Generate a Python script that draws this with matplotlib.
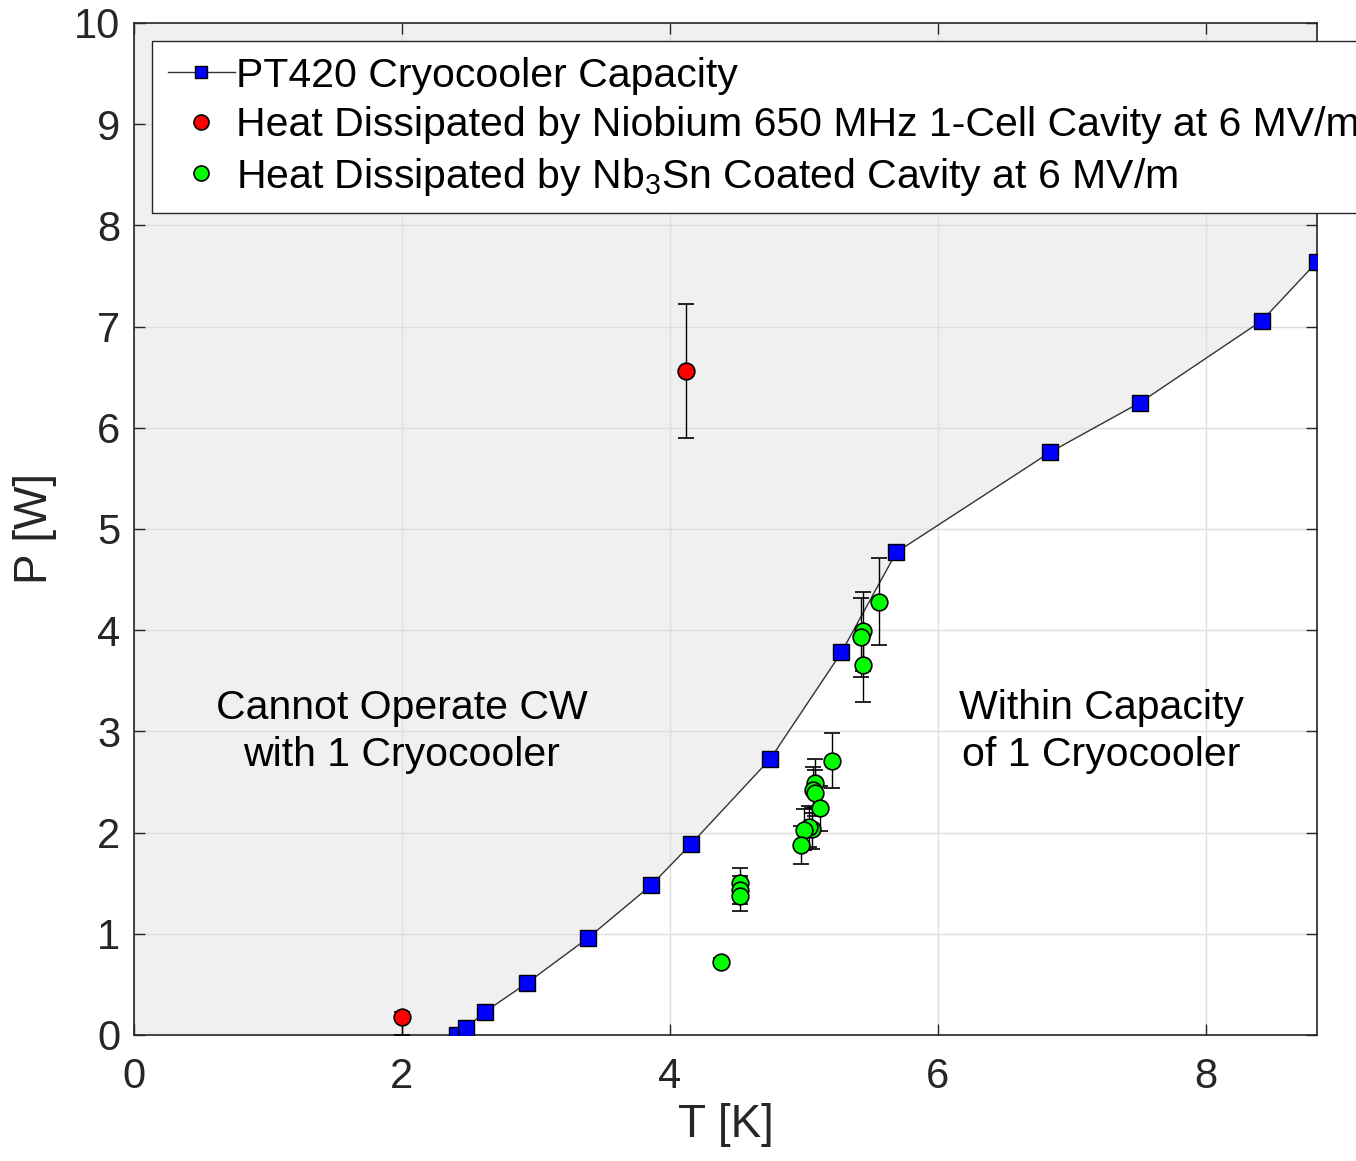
import matplotlib
matplotlib.use("Agg")
import matplotlib.pyplot as plt

plt.rcParams['font.family'] = ['Liberation Sans', 'DejaVu Sans']
plt.rcParams['mathtext.default'] = 'regular'

# PT420 cryocooler capacity curve
cap_T = [2.41, 2.48, 2.62, 2.93, 3.39, 3.86, 4.16, 4.75, 5.28, 5.69, 6.84, 7.51, 8.42, 8.83]
cap_P = [0.00, 0.07, 0.23, 0.51, 0.96, 1.48, 1.89, 2.73, 3.78, 4.77, 5.76, 6.25, 7.06, 7.64]

# niobium 1-cell cavity (lower / upper error)
nb_T = [2.00, 4.12]
nb_P = [0.18, 6.56]
nb_err_lo = [0.18, 0.66]
nb_err_hi = [0.05, 0.66]

# Nb3Sn coated cavity
sn_T = [5.56, 5.44, 5.43, 5.44, 5.21, 5.08, 5.07, 5.08, 5.12, 5.06, 5.04, 5.00, 4.98, 4.52, 4.52, 4.52, 4.38]
sn_P = [4.28, 3.99, 3.93, 3.66, 2.71, 2.49, 2.42, 2.39, 2.24, 2.04, 2.06, 2.03, 1.88, 1.50, 1.43, 1.37, 0.72]
sn_err = [0.43, 0.39, 0.39, 0.37, 0.27, 0.24, 0.23, 0.23, 0.22, 0.20, 0.20, 0.20, 0.19, 0.15, 0.14, 0.14, 0.04]

W, H = 1356, 1161
fig = plt.figure(figsize=(W / 100, H / 100), dpi=100)
ax = fig.add_axes([134 / W, 1 - 1035 / H, (1317 - 134) / W, (1035 - 23) / H])

xmax, ymax = 8.83, 10

# grey region above capacity curve
ax.fill_between([0] + cap_T, [0] + cap_P, ymax, color='#f0f0f0', lw=0, zorder=0.1)
ax.set_axisbelow(True)
ax.grid(True, color='#dedede', lw=1.0)

cap_line, = ax.plot(cap_T, cap_P, '-s', color='#333333', lw=1.0, mfc='#0000ff', mec='black',
                    mew=1.0, ms=11, zorder=3)

nb = ax.errorbar(nb_T, nb_P, yerr=[nb_err_lo, nb_err_hi], fmt='o', ms=12, mfc='#ff0000',
                 mec='black', mew=1.2, ecolor='black', elinewidth=1.0, capsize=5.5,
                 capthick=1.0, zorder=4)
sn = ax.errorbar(sn_T, sn_P, yerr=sn_err, fmt='o', ms=12, mfc='#00ff00', mec='black', mew=1.2,
                 ecolor='black', elinewidth=1.0, capsize=5.5, capthick=1.0, zorder=4)

ax.text(2.0, 3.0, 'Cannot Operate CW\nwith 1 Cryocooler', ha='center', va='center',
        fontsize=29.5, color='black', linespacing=1.3)
ax.text(7.22, 3.0, 'Within Capacity\nof 1 Cryocooler', ha='center', va='center',
        fontsize=29.5, color='black', linespacing=1.3)

ax.set_xlim(0, xmax)
ax.set_ylim(0, ymax)
ax.set_xticks([0, 2, 4, 6, 8])
ax.set_yticks(range(0, 11))
ax.tick_params(direction='in', top=True, right=True, length=8, width=1.0,
               colors='#262626', labelsize=30)
ax.tick_params(axis='x', pad=16)
ax.tick_params(axis='y', pad=10)
for s in ax.spines.values():
    s.set_color('#262626')
    s.set_linewidth(1.2)

ax.set_xlabel('T [K]', fontsize=33, color='#262626', labelpad=4)
ax.set_ylabel('P [W]', fontsize=33, color='#262626', labelpad=12)

# legend runs off the right edge of the figure, as in the original
labels = ['PT420 Cryocooler Capacity',
          'Heat Dissipated by Niobium 650 MHz 1-Cell Cavity at 6 MV/m',
          'Heat Dissipated by Nb$_3$Sn Coated Cavity at 6 MV/m']
leg = ax.legend([cap_line, nb[0], sn[0]], labels, loc='upper left',
                bbox_to_anchor=(152 / W, 1 - 41 / H), bbox_transform=fig.transFigure,
                borderaxespad=0, fontsize=29.5, handlelength=1.65, handletextpad=0.03,
                borderpad=0.38, labelspacing=0.28, fancybox=False, framealpha=1,
                markerscale=0.9)
leg.legend_handles[0].set_markersize(8)
leg.get_frame().set_edgecolor('#262626')
leg.get_frame().set_linewidth(1.0)

fig.savefig('out.png', dpi=100)
